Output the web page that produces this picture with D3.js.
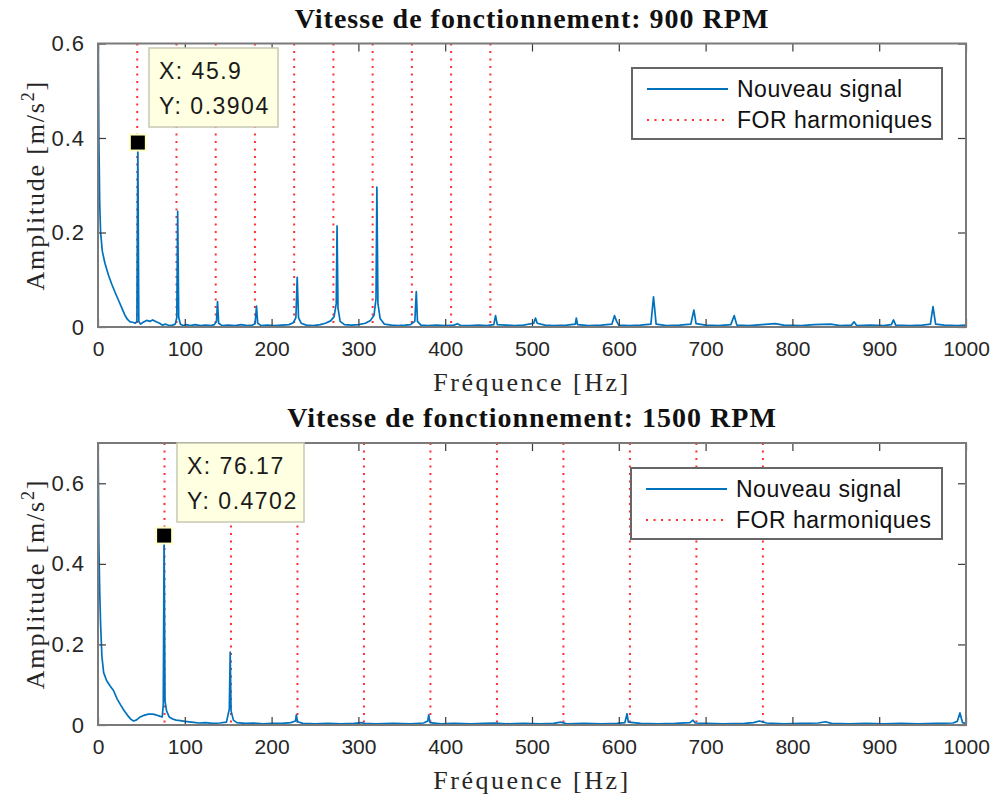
<!DOCTYPE html>
<html>
<head>
<meta charset="utf-8">
<script src="https://cdn.jsdelivr.net/npm/d3@7"></script>
<style>
  body { margin: 0; background: #fff; }
  svg { display: block; }
</style>
</head>
<body>
<div id="chart"></div>
<script>
// spectrum at 900 RPM: [frequency Hz, amplitude m/s2]
var sig900 = [
  [0,0.75],[0.5,0.55],[1,0.40],[2,0.26],[3,0.20],[5,0.16],[8,0.135],[12,0.11],[16,0.09],
  [20,0.072],[24,0.055],[28,0.038],[31,0.025],[34,0.016],[37,0.011],[40,0.010],[43,0.008],
  [44.8,0.012],[45.9,0.3904],[47,0.012],[49,0.006],[52,0.010],[56,0.014],[60,0.012],[63,0.015],
  [67,0.011],[71,0.008],[74,0.004],[78,0.006],[82,0.003],[86,0.004],[89,0.006],[90.8,0.02],
  [91.8,0.245],[93,0.02],[95,0.006],[98,0.003],[102,0.005],[106,0.003],[112,0.005],[118,0.003],
  [124,0.004],[130,0.003],[134,0.005],[136.5,0.012],[137.7,0.054],[139,0.008],[143,0.003],
  [150,0.004],[158,0.003],[165,0.005],[172,0.003],[178,0.004],[181,0.007],[182.6,0.044],
  [184,0.008],[188,0.003],[195,0.004],[203,0.003],[212,0.004],[220,0.005],[225,0.009],
  [228,0.02],[229.5,0.105],[231,0.02],[234,0.008],[240,0.004],[248,0.003],[256,0.005],
  [262,0.008],[268,0.013],[272,0.022],[274.5,0.05],[275.4,0.214],[276.5,0.04],[279,0.012],
  [284,0.005],[292,0.004],[300,0.005],[308,0.008],[314,0.014],[318,0.025],[320.3,0.06],
  [321.3,0.296],[322.5,0.05],[325,0.018],[330,0.006],[338,0.004],[346,0.003],[354,0.004],
  [360,0.005],[365,0.012],[366.7,0.075],[368,0.012],[372,0.004],[380,0.003],[390,0.004],
  [400,0.003],[410,0.004],[414,0.007],[418,0.003],[428,0.003],[438,0.004],[448,0.003],
  [456,0.005],[458,0.024],[460,0.005],[470,0.004],[480,0.003],[490,0.004],[502,0.008],
  [504,0.019],[506,0.008],[515,0.004],[525,0.003],[540,0.004],[550,0.006],[551,0.019],
  [552.5,0.005],[565,0.003],[580,0.004],[592,0.006],[595,0.024],[597.5,0.012],[600,0.004],
  [612,0.003],[625,0.004],[637,0.006],[640,0.064],[643,0.006],[655,0.003],[670,0.004],
  [683,0.006],[686.5,0.036],[689,0.007],[700,0.004],[715,0.003],[729,0.005],[733,0.024],
  [736,0.004],[750,0.003],[765,0.005],[780,0.007],[790,0.004],[810,0.003],[825,0.005],
  [844,0.006],[855,0.003],[868,0.004],[871,0.011],[874,0.003],[890,0.004],[905,0.003],
  [914,0.005],[916.5,0.015],[919,0.004],[935,0.003],[950,0.004],[959,0.006],[962,0.043],
  [965,0.006],[975,0.004],[990,0.003],[1000,0.004]
];

// spectrum at 1500 RPM
var sig1500 = [
  [0,0.75],[0.5,0.6],[1,0.45],[2,0.33],[3,0.25],[4.5,0.17],[6.5,0.13],[10,0.11],[14,0.097],
  [18,0.085],[22,0.065],[26,0.05],[30,0.036],[34,0.024],[38,0.014],[41,0.010],[44,0.012],
  [48,0.019],[53,0.024],[58,0.027],[63,0.027],[67,0.025],[71,0.022],[74,0.02],[75.2,0.05],
  [76.17,0.4702],[77.2,0.06],[79,0.035],[82,0.02],[86,0.015],[90,0.012],[95,0.011],[100,0.009],
  [108,0.007],[116,0.005],[124,0.006],[132,0.004],[140,0.005],[148,0.007],[151.3,0.04],
  [152.3,0.181],[153.3,0.035],[156,0.012],[160,0.006],[170,0.004],[180,0.005],[190,0.003],
  [200,0.004],[212,0.004],[222,0.006],[227.5,0.01],[228.5,0.025],[229.8,0.008],[236,0.004],
  [250,0.003],[265,0.004],[280,0.003],[295,0.004],[304.7,0.006],[306,0.004],[320,0.003],
  [340,0.004],[360,0.003],[375,0.005],[380,0.01],[381,0.025],[382.5,0.006],[395,0.003],
  [410,0.004],[430,0.003],[445,0.004],[457,0.005],[470,0.003],[490,0.004],[510,0.003],
  [525,0.004],[533,0.007],[540,0.003],[560,0.004],[580,0.003],[598,0.004],[607,0.006],
  [609.5,0.028],[611,0.007],[625,0.004],[645,0.003],[665,0.004],[682,0.006],[685.5,0.012],
  [688,0.005],[700,0.004],[720,0.003],[745,0.004],[755,0.006],[762,0.01],[770,0.005],
  [790,0.003],[810,0.004],[830,0.005],[838,0.008],[845,0.004],[865,0.003],[885,0.004],
  [905,0.003],[925,0.004],[945,0.003],[965,0.004],[985,0.005],[990,0.009],[993,0.03],
  [996,0.006],[1000,0.004]
];

// FOR harmonic frequencies (red dotted lines)
var harm900 = [45.2, 90.4, 135.6, 180.8, 226, 271.2, 316.4, 361.6, 406.8, 452];
var harm1500 = [76.6, 153.2, 229.8, 306.4, 383, 459.6, 536.2, 612.8, 689.4, 766];

var xTicks = [0, 100, 200, 300, 400, 500, 600, 700, 800, 900, 1000];
var yTicks = [0, 0.2, 0.4, 0.6];

var titles = ["Vitesse de fonctionnement: 900 RPM", "Vitesse de fonctionnement: 1500 RPM"];
var legendLabels = ["Nouveau signal", "FOR harmoniques"];
var tips = [[45.9, 0.3904], [76.17, 0.4702]];
var tipLabels = [["X: 45.9", "Y: 0.3904"], ["X: 76.17", "Y: 0.4702"]];

var w = 1000, h = 805;
var blue = "#0072bd";
var sans = "'Liberation Sans', Arial, Helvetica, sans-serif";
var serif = "'Liberation Serif', 'Times New Roman', serif";

var svg = d3.select("#chart").append("svg")
  .attr("width", w).attr("height", h);

function drawPanel(idx, sig, harm, yMax, top, bottom, tipBox, legBox) {
  var left = 98, right = 966;

  var x = d3.scaleLinear().domain([0, 1000]).range([left, right]);
  var y = d3.scaleLinear().domain([0, yMax]).range([bottom, top]);

  var g = svg.append("g");

  g.append("clipPath").attr("id", "clip" + idx)
    .append("rect").attr("x", left).attr("y", top)
    .attr("width", right - left).attr("height", bottom - top);

  // harmonics
  g.selectAll(".harm").data(harm).enter().append("line")
    .attr("x1", function(d){ return x(d); }).attr("x2", function(d){ return x(d); })
    .attr("y1", top).attr("y2", bottom)
    .attr("stroke", "#ff3030").attr("stroke-width", 2)
    .attr("stroke-dasharray", "2 5.5");

  // signal
  var line = d3.line()
    .x(function(d){ return x(d[0]); })
    .y(function(d){ return y(d[1]); });

  g.append("path").datum(sig)
    .attr("clip-path", "url(#clip" + idx + ")")
    .attr("d", line)
    .attr("fill", "none")
    .attr("stroke", blue).attr("stroke-width", 1.7)
    .attr("stroke-linejoin", "round");

  // box axes, ticks pointing inward
  var ax = d3.axisBottom(x).tickValues(xTicks).tickSizeInner(-8).tickSizeOuter(0).tickPadding(14)
    .tickFormat(d3.format("d"));
  var ay = d3.axisLeft(y).tickValues(yTicks).tickSizeInner(-8).tickSizeOuter(0).tickPadding(13)
    .tickFormat(function(d){ return d === 0 ? "0" : d3.format(".1f")(d); });

  var gx = g.append("g").attr("transform", "translate(0," + bottom + ")").call(ax);
  var gy = g.append("g").attr("transform", "translate(" + left + ",0)").call(ay);
  g.append("g").attr("transform", "translate(0," + top + ")")
    .call(d3.axisTop(x).tickValues(xTicks).tickSizeInner(-8).tickSizeOuter(0).tickFormat(""));
  g.append("g").attr("transform", "translate(" + right + ",0)")
    .call(d3.axisRight(y).tickValues(yTicks).tickSizeInner(-8).tickSizeOuter(0).tickFormat(""));

  g.selectAll(".domain").remove();
  g.selectAll(".tick line").attr("stroke", "#3a3a3a").attr("stroke-width", 1.2);
  g.selectAll(".tick text").attr("fill", "#262626")
    .style("font-family", sans).style("font-size", "21px");
  gy.selectAll(".tick text").style("font-size", "22px").style("letter-spacing", "1px");

  g.append("rect").attr("x", left).attr("y", top)
    .attr("width", right - left).attr("height", bottom - top)
    .attr("fill", "none").attr("stroke", "#7a7a7a").attr("stroke-width", 2);

  // title
  g.append("text").attr("x", (left + right) / 2).attr("y", top - 16)
    .attr("text-anchor", "middle")
    .style("font-family", serif).style("font-weight", "bold").style("font-size", "28px")
    .style("letter-spacing", "1px")
    .attr("fill", "#111").text(titles[idx]);

  // x label
  g.append("text").attr("x", (left + right) / 2).attr("y", bottom + 64)
    .attr("text-anchor", "middle")
    .style("font-family", serif).style("font-size", "26px").style("letter-spacing", "2.5px")
    .attr("fill", "#262626").text("Fréquence [Hz]");

  // y label
  var yl = g.append("text")
    .attr("transform", "translate(44," + ((top + bottom) / 2) + ") rotate(-90)")
    .attr("text-anchor", "middle")
    .style("font-family", serif).style("font-size", "26px").style("letter-spacing", "1.8px")
    .attr("fill", "#262626");
  yl.append("tspan").text("Amplitude [m/s");
  yl.append("tspan").attr("dy", -10).style("font-size", "18px").text("2");
  yl.append("tspan").attr("dy", 10).text("]");

  // legend
  var lg = g.append("g");
  lg.append("rect").attr("x", legBox[0]).attr("y", legBox[1])
    .attr("width", legBox[2]).attr("height", legBox[3])
    .attr("fill", "#fff").attr("stroke", "#666").attr("stroke-width", 2);
  var row1 = legBox[1] + 21, row2 = legBox[1] + 52;
  lg.append("line").attr("x1", legBox[0] + 15).attr("x2", legBox[0] + 96)
    .attr("y1", row1).attr("y2", row1)
    .attr("stroke", blue).attr("stroke-width", 1.8);
  lg.append("line").attr("x1", legBox[0] + 15).attr("x2", legBox[0] + 96)
    .attr("y1", row2).attr("y2", row2)
    .attr("stroke", "#ff3030").attr("stroke-width", 2).attr("stroke-dasharray", "2 5.5");
  lg.selectAll(".lt").data(legendLabels).enter().append("text")
    .attr("x", legBox[0] + 105)
    .attr("y", function(d, i){ return (i === 0 ? row1 : row2) + 8; })
    .style("font-family", sans).style("font-size", "23px").style("letter-spacing", "0.5px")
    .attr("fill", "#111").text(function(d){ return d; });

  // data tip
  var tp = tips[idx];
  g.append("rect").attr("x", x(tp[0]) - 8).attr("y", y(tp[1]) - 8)
    .attr("width", 16).attr("height", 16)
    .attr("fill", "#000").attr("stroke", "#ffffc8").attr("stroke-width", 2);
  var tg = g.append("g");
  tg.append("rect").attr("x", tipBox[0]).attr("y", tipBox[1])
    .attr("width", tipBox[2]).attr("height", tipBox[3])
    .attr("fill", "#ffffe1").attr("stroke", "#c8c8b4").attr("stroke-width", 1.5);
  tg.selectAll(".tt").data(tipLabels[idx]).enter().append("text")
    .attr("x", tipBox[0] + 10)
    .attr("y", function(d, i){ return tipBox[1] + 31 + i * 35; })
    .style("font-family", sans).style("font-size", "23px").style("letter-spacing", "1.5px")
    .attr("fill", "#1a1a1a").text(function(d){ return d; });
}

drawPanel(0, sig900, harm900, 0.6, 43.5, 327, [149, 48, 129, 79], [632, 68, 310, 71]);
drawPanel(1, sig1500, harm1500, 0.7, 443, 725, [177, 443, 127, 79], [631, 468, 311, 71]);
</script>
</body>
</html>
